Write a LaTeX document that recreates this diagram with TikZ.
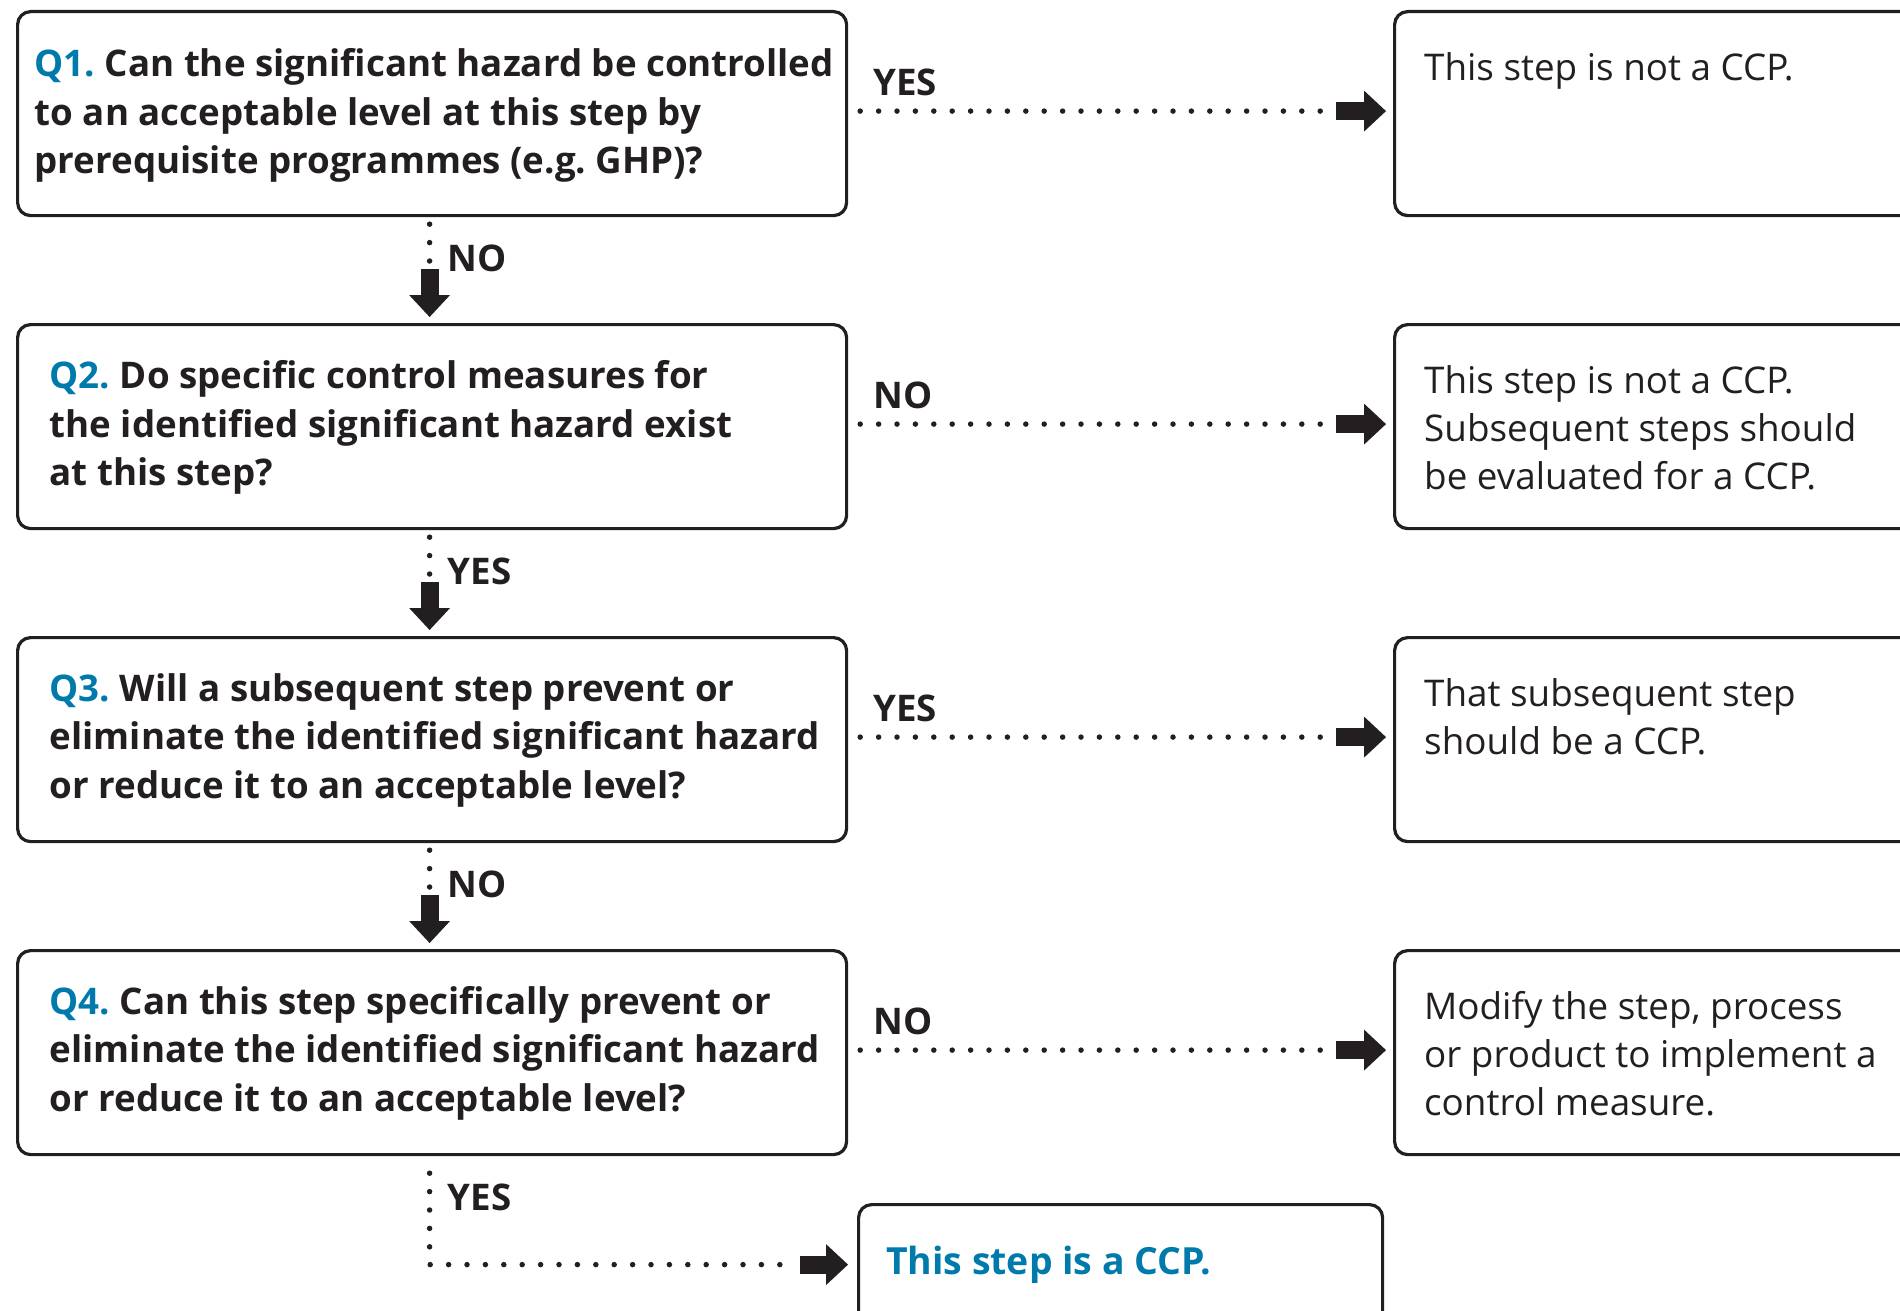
\documentclass[tikz,border=0pt]{standalone}
\usepackage{fontspec}
\setmainfont{Open Sans}
\usetikzlibrary{arrows.meta}
\frenchspacing

\definecolor{ink}{RGB}{35,31,32}
\definecolor{qblue}{RGB}{0,122,171}

\tikzset{
  box/.style={draw=ink, line width=3.2pt, rounded corners=13pt, inner sep=0pt,
              anchor=north west, minimum height=204pt},
  qtext/.style={anchor=north west, inner sep=0pt, align=left, text=ink,
                font=\fontsize{36.7}{48.5}\selectfont\bfseries\frenchspacing},
  atext/.style={anchor=north west, inner sep=0pt, align=left, text=ink,
                font=\fontsize{36.8}{48}\selectfont\frenchspacing},
  lbl/.style={anchor=base west, inner sep=0pt, text=ink,
              font=\fontsize{36.7}{40}\selectfont\bfseries},
  dotline/.style={draw=ink, line width=5.5pt, line cap=round,
                  dash pattern=on 0pt off 18.4pt},
  blockarrow/.style={draw=ink, line width=18pt,
                     -{Triangle[length=22pt 0 0, width=41pt 0 0, line width=0pt]}},
}

\begin{document}
\begin{tikzpicture}[x=1pt,y=-1pt]
  \clip (0,0) rectangle (1900,1311);
  \useasboundingbox (0,0) rectangle (1900,1311);

  % question boxes
  \node[box, minimum width=829pt] (q1) at (16,10) {};
  \node[box, minimum width=829pt] (q2) at (16,323) {};
  \node[box, minimum width=829pt] (q3) at (16,636) {};
  \node[box, minimum width=829pt] (q4) at (16,949) {};

  % outcome boxes (running off the right edge)
  \node[box, minimum width=600pt] (r1) at (1393,10) {};
  \node[box, minimum width=600pt] (r2) at (1393,323) {};
  \node[box, minimum width=600pt] (r3) at (1393,636) {};
  \node[box, minimum width=600pt] (r4) at (1393,949) {};

  % final box (running off the bottom edge)
  \node[box, minimum width=524pt, minimum height=120pt] (ccp) at (857,1203) {};

  % question texts
  \node[qtext] (t1) at (34.5,48.5) {{\color{qblue}Q1.} Can the significant hazard be controlled\\
    to an acceptable level at this step by\\prerequisite programmes (e.g. GHP)?};
  \node[qtext] (t2) at (49.5,360.6) {{\color{qblue}Q2.} Do specific control measures for\\
    the identified significant hazard exist\\at this step?};
  \node[qtext] (t3) at (49.5,673) {{\color{qblue}Q3.} Will a subsequent step prevent or\\
    eliminate the identified significant hazard\\or reduce it to an acceptable level?};
  \node[qtext] (t4) at (49.5,986) {{\color{qblue}Q4.} Can this step specifically prevent or\\
    eliminate the identified significant hazard\\or reduce it to an acceptable level?};

  % outcome texts
  \node[atext] (a1) at (1424,52.6) {This step is not a CCP.};
  \node[atext] (a2) at (1424,365.6) {This step is not a CCP.\\Subsequent steps should\\be evaluated for a CCP.};
  \node[atext] (a3) at (1424,678.6) {That subsequent step\\should be a CCP.};
  \node[atext] (a4) at (1424,991.6) {Modify the step, process\\or product to implement a\\control measure.};
  \node[qtext, text=qblue, font=\fontsize{37.4}{48.5}\selectfont\bfseries] (a5) at (886,1246) {This step is a CCP.};

  % horizontal connectors
  \foreach \q/\r in {q1/r1, q2/r2, q3/r3, q4/r4} {
    \draw[dotline] ([xshift=12pt,yshift=2.5pt]\q.east) -- ([xshift=-59pt,yshift=2.5pt]\r.west);
    \draw[blockarrow] ([xshift=-57pt,yshift=2.5pt]\r.west) -- ([xshift=-7pt,yshift=2.5pt]\r.west);
  }

  % vertical connectors
  \foreach \a/\b in {q1/q2, q2/q3, q3/q4} {
    \draw[dotline] ([xshift=-2.5pt,yshift=-7pt]\a.south) -- ([xshift=-2.5pt,yshift=-44.5pt]\a.south);
    \draw[blockarrow] ([xshift=-2.5pt,yshift=54pt]\b.north) -- ([xshift=-2.5pt,yshift=6pt]\b.north);
  }

  % last connector, down and across to the final box
  \draw[dotline] ([xshift=-2.5pt,yshift=-17pt]q4.south) |- ([xshift=-59pt]ccp.west);
  \draw[blockarrow] ([xshift=-57pt]ccp.west) -- ([xshift=-9pt]ccp.west);

  % branch labels
  \node[lbl] (h1) at ([xshift=25pt,yshift=18.5pt]q1.east) {YES};
  \node[lbl] (h2) at ([xshift=25pt,yshift=18.5pt]q2.east) {NO};
  \node[lbl] (h3) at ([xshift=25pt,yshift=18.5pt]q3.east) {YES};
  \node[lbl] (h4) at ([xshift=25pt,yshift=18.5pt]q4.east) {NO};
  \node[lbl] (v1) at ([xshift=15.5pt,yshift=-54pt]q1.south) {NO};
  \node[lbl] (v2) at ([xshift=15.5pt,yshift=-54pt]q2.south) {YES};
  \node[lbl] (v3) at ([xshift=15.5pt,yshift=-54pt]q3.south) {NO};
  \node[lbl] (v4) at ([xshift=15.5pt,yshift=-54pt]q4.south) {YES};
\end{tikzpicture}
\end{document}
